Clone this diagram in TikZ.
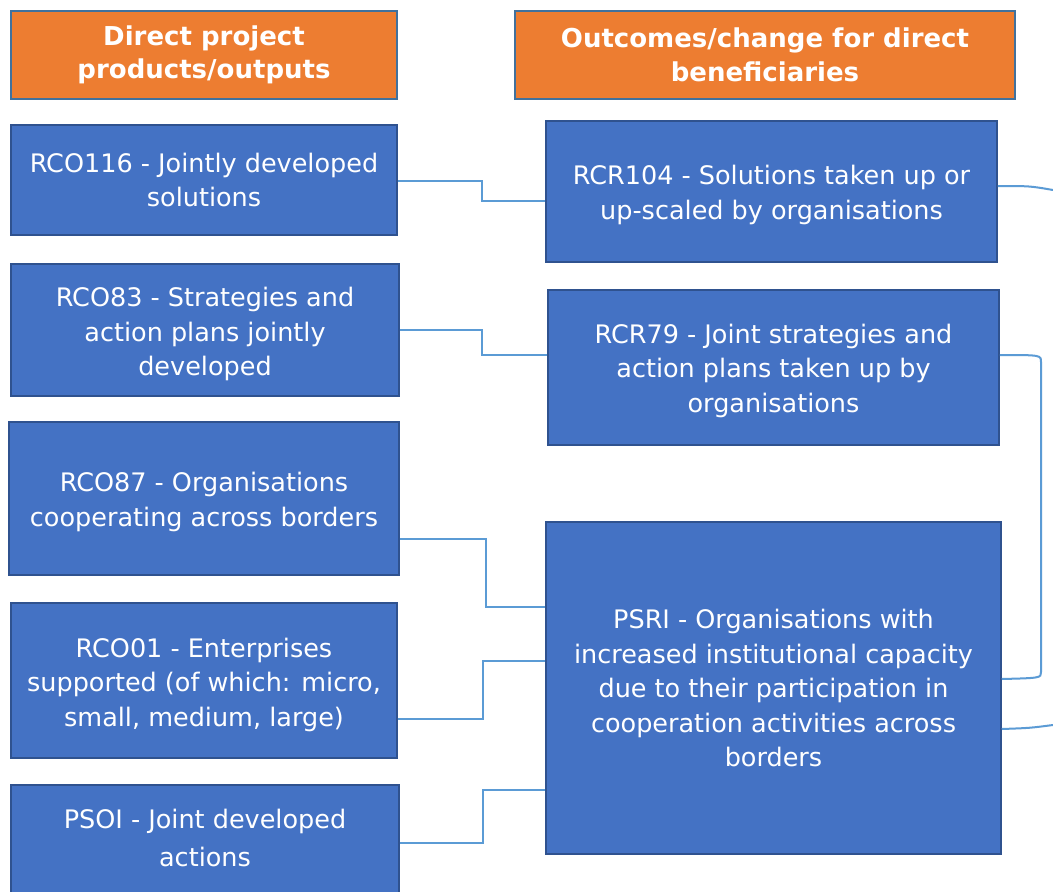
\documentclass[tikz,border=0pt]{standalone}
\usepackage{fontspec}
\setmainfont{DejaVu Sans}
\definecolor{hdr}{HTML}{ED7D31}
\definecolor{boxfill}{HTML}{4472C4}
\definecolor{boxline}{HTML}{2F528F}
\definecolor{hdrline}{HTML}{41719C}
\definecolor{conncol}{HTML}{5B9BD5}
\begin{document}
\begin{tikzpicture}[x=1pt,y=-1pt,
  base/.style={draw, line width=1.5pt, inner sep=0pt, align=center, text=white,
    font=\fontsize{25.5}{34.5}\selectfont},
  header/.style={base, fill=hdr, draw=hdrline, font=\bfseries\fontsize{26}{33.5}\selectfont},
  ibox/.style={base, fill=boxfill, draw=boxline},
  txt/.style={text=white, align=center, inner sep=0pt, font=\fontsize{25.5}{34.5}\selectfont},
  conn/.style={draw=conncol, line width=2pt}]
\useasboundingbox (0,0) rectangle (1053,892);
\fill[white] (0,0) rectangle (1053,892);
% headers
\node[header, minimum width=386pt, minimum height=88pt] (H1) at (204,55) {Direct project\\products/outputs};
\node[header, minimum width=500pt, minimum height=88pt] (H2) at (765,55) {Outcomes/change for direct\\beneficiaries};
% left boxes
\node[ibox, minimum width=386pt, minimum height=110pt] (RCO116) at (204,180) {RCO116 - Jointly developed\\solutions};
\node[ibox, minimum width=388pt, minimum height=132pt,
  label={[txt, yshift=-4pt]center:{RCO83 - Strategies and\\action plans jointly\\developed}}] (RCO83) at (205,330) {};
\node[ibox, minimum width=390pt, minimum height=153pt,
  label={[txt, yshift=-3.5pt]center:{RCO87 - Organisations\\cooperating across borders}}] (RCO87) at (204,498.5) {};
\node[ibox, minimum width=386pt, minimum height=155pt,
  label={[txt, yshift=-4pt]center:{RCO01 - Enterprises\\supported (of which: micro,\\small, medium, large)}}] (RCO01) at (204,680.5) {};
\node[ibox, minimum width=388pt, minimum height=110pt,
  label={[txt, font=\fontsize{25.5}{38}\selectfont, yshift=2pt]center:{PSOI - Joint developed\\actions}}] (PSOI) at (205,840) {};
% right boxes
\node[ibox, minimum width=451pt, minimum height=141pt,
  label={[txt, yshift=-3.5pt]center:{RCR104 - Solutions taken up or\\up-scaled by organisations}}] (RCR104) at (771.5,191.5) {};
\node[ibox, minimum width=451pt, minimum height=155pt,
  label={[txt, yshift=-3pt]center:{RCR79 - Joint strategies and\\action plans taken up by\\organisations}}] (RCR79) at (773.5,367.5) {};
\node[ibox, minimum width=455pt, minimum height=332pt] (PSRI) at (773.5,688) {PSRI - Organisations with\\increased institutional capacity\\due to their participation in\\cooperation activities across\\borders};
% connectors left to right
\draw[conn] (RCO116.east|-0,181) -- (482,181) -- (482,201) -- (RCR104.west|-0,201);
\draw[conn] (RCO83.east|-0,330) -- (482,330) -- (482,355) -- (RCR79.west|-0,355);
\draw[conn] (RCO87.east|-0,539) -- (486,539) -- (486,607) -- (PSRI.west|-0,607);
\draw[conn] (RCO01.east|-0,719) -- (483,719) -- (483,661) -- (PSRI.west|-0,661);
\draw[conn] (PSOI.east|-0,843) -- (483,843) -- (483,790) -- (PSRI.west|-0,790);
% connectors on the right
\coordinate (out1) at (1053,190);
\coordinate (out2) at (1053,725);
\draw[conn] (RCR104.east|-0,186) .. controls (1030,186) .. (out1);
\draw[conn] (RCR79.east|-0,355) .. controls (1041,355) .. (1041,362) -- (1041,672) .. controls (1041,678) .. (PSRI.east|-0,679);
\draw[conn] (PSRI.east|-0,729) .. controls (1030,728) .. (out2);
\end{tikzpicture}
\end{document}
